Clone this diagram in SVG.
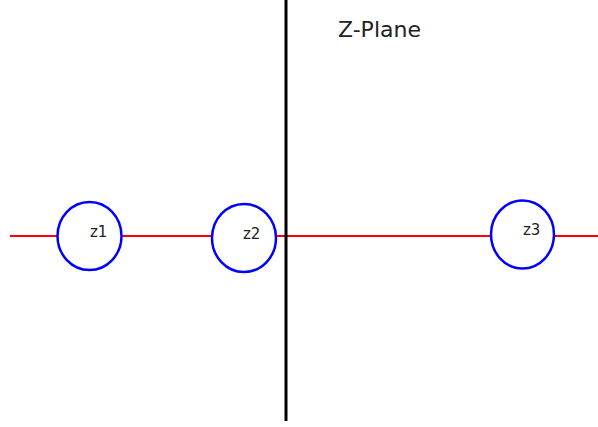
<svg xmlns="http://www.w3.org/2000/svg" width="598" height="427" viewBox="0 0 598 427">
<style>
.zero{fill:#fff;stroke:#0000ff;stroke-width:2.5}
.lbl{font-family:"DejaVu Sans",sans-serif;font-size:15px;fill:#222}
</style>
<rect width="598" height="427" fill="#fff"/>
<g id="connectors">
<line x1="10" y1="236" x2="598" y2="236" stroke="#ff0000" stroke-width="2"/>
<line x1="286" y1="0" x2="286" y2="421" stroke="#000" stroke-width="3"/>
</g>
<g id="z1"><ellipse class="zero" cx="89.5" cy="236" rx="32" ry="34"/><text class="lbl" x="90" y="237">z1</text></g>
<g id="z2"><ellipse class="zero" cx="244" cy="238" rx="32" ry="34"/><text class="lbl" x="243" y="239">z2</text></g>
<g id="z3"><ellipse class="zero" cx="522.5" cy="234.5" rx="31.5" ry="34"/><text class="lbl" x="523" y="235">z3</text></g>
<g id="title"><text x="338" y="37" font-family="DejaVu Sans,sans-serif" font-size="22" fill="#222">Z-Plane</text></g>
</svg>
